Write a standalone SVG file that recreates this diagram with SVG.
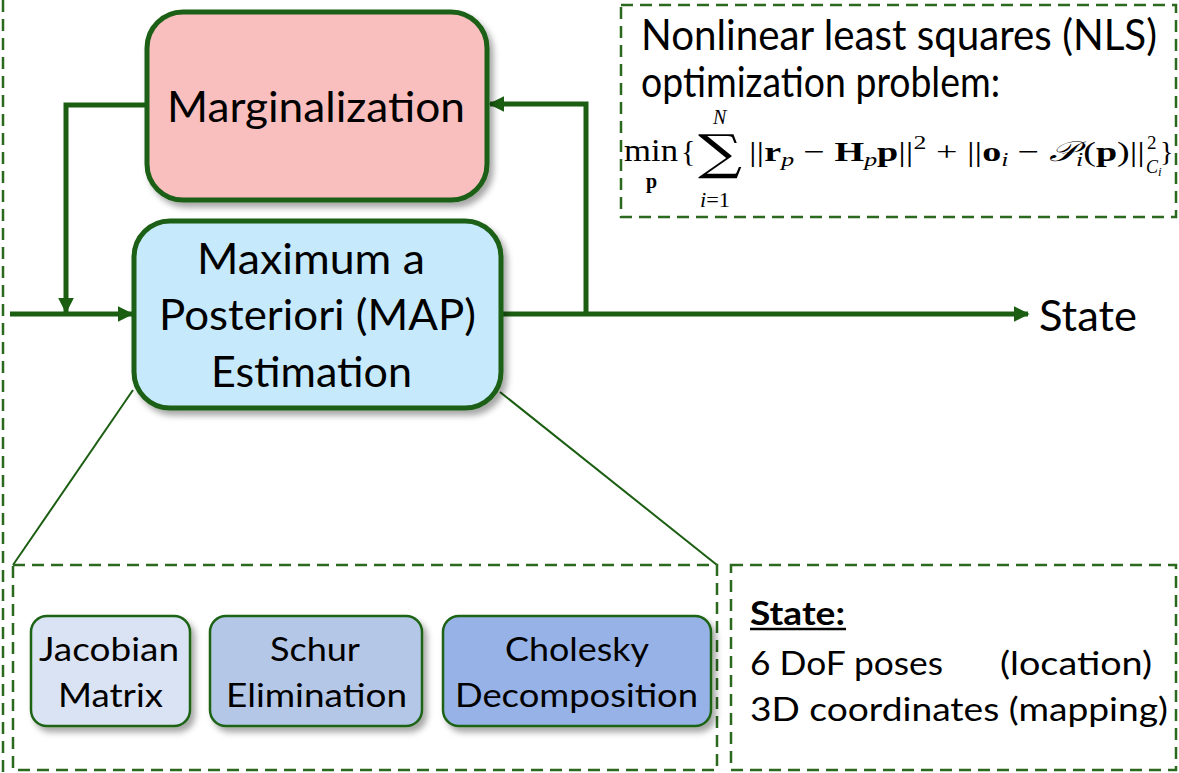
<svg xmlns="http://www.w3.org/2000/svg" width="1179" height="773" viewBox="0 0 1179 773">
  <defs>
    <filter id="shadow" x="-10%" y="-10%" width="125%" height="130%">
      <feDropShadow dx="4" dy="5" stdDeviation="3" flood-color="#000" flood-opacity="0.35"/>
    </filter>
    <marker id="arrow" viewBox="0 0 10 10" refX="9" refY="5" markerWidth="3.2" markerHeight="3.2" markerUnits="strokeWidth" orient="auto">
      <path d="M0,0 L10,5 L0,10 Z" fill="#1b5e12"/>
    </marker>
  </defs>
  <style>
    .frame { fill: none; stroke: #2b6a1e; stroke-width: 2.5; stroke-dasharray: 12 7; }
    .main { stroke: #1b5e12; stroke-width: 5; }
    .sub { stroke: #1f6316; stroke-width: 2.5; }
    .wire { fill: none; stroke: #1b5e12; stroke-width: 5; }
    .thin { fill: none; stroke: #1b5e12; stroke-width: 2; }
    .t { font-family: Lato, "Open Sans", sans-serif; fill: #000; }
    .big { font-size: 42px; }
    .small { font-size: 33px; }
    .math { font-family: "Liberation Serif", "DejaVu Serif", serif; fill: #000; }
    .b { font-weight: bold; }
    .i { font-style: italic; }
  </style>
  <rect width="1179" height="773" fill="#fff"/>

  <!-- outer frame edge -->
  <line x1="3" y1="0" x2="3" y2="773" class="frame"/>

  <!-- connectors -->
  <g id="connectors">
    <line x1="10" y1="314" x2="132" y2="314" class="wire" marker-end="url(#arrow)"/>
    <polyline points="147,105 66,105 66,312" class="wire" marker-end="url(#arrow)"/>
    <line x1="501" y1="314" x2="1028" y2="314" class="wire" marker-end="url(#arrow)"/>
    <polyline points="586,314 586,104 490,104" class="wire" marker-end="url(#arrow)"/>
    <line x1="133" y1="390" x2="13" y2="565" class="thin"/>
    <line x1="500" y1="392" x2="717" y2="565" class="thin"/>
  </g>

  <!-- NLS formulation box -->
  <g id="nls">
    <rect x="621" y="5" width="555" height="212" class="frame"/>
    <text x="641" y="50" class="t big" textLength="516" lengthAdjust="spacingAndGlyphs">Nonlinear least squares (NLS)</text>
    <text x="641" y="97" class="t big" textLength="359" lengthAdjust="spacingAndGlyphs">optimization problem:</text>
    <text x="624" y="161" class="math" font-size="31" textLength="54" lengthAdjust="spacingAndGlyphs">min</text>
    <text x="646" y="188" class="math b" font-size="20">p</text>
    <text x="681" y="161" class="math" font-size="30">{</text>
    <text x="698" y="169" font-family="DejaVu Serif, serif" font-size="48" textLength="44" lengthAdjust="spacingAndGlyphs">∑</text>
    <text x="713" y="124" class="math i" font-size="20">N</text>
    <text x="700" y="207" class="math" font-size="20" textLength="30" lengthAdjust="spacingAndGlyphs"><tspan class="i">i</tspan>=1</text>
    <text x="749" y="161" class="math" font-size="28" textLength="396" lengthAdjust="spacingAndGlyphs">||<tspan class="b">r</tspan><tspan class="i" font-size="19" dy="5">p</tspan><tspan dy="-5"> − </tspan><tspan class="b">H</tspan><tspan class="i" font-size="19" dy="5">p</tspan><tspan dy="-5" class="b">p</tspan>||<tspan font-size="19" dy="-12">2</tspan><tspan dy="12"> + ||</tspan><tspan class="b">o</tspan><tspan class="i" font-size="19" dy="5">i</tspan><tspan dy="-5"> − </tspan><tspan class="i">𝒫</tspan><tspan class="i" font-size="19" dy="5">i</tspan><tspan dy="-5">(</tspan><tspan class="b">p</tspan>)||</text>
    <text x="1147" y="149" class="math" font-size="19">2</text>
    <text x="1146" y="173" class="math i" font-size="18">C<tspan font-size="13" dy="3">i</tspan></text>
    <text x="1160" y="161" class="math" font-size="28">}</text>
  </g>

  <!-- Marginalization -->
  <g id="marginalization">
    <rect x="147" y="12" width="340" height="188" rx="36" fill="#f9bebe" class="main" filter="url(#shadow)"/>
    <text x="167" y="122" class="t big" textLength="298" lengthAdjust="spacingAndGlyphs">Marginalization</text>
  </g>

  <!-- MAP estimation -->
  <g id="map">
    <rect x="134" y="221" width="367" height="187" rx="36" fill="#c6e9fb" class="main" filter="url(#shadow)"/>
    <text x="197" y="274" class="t big" textLength="228" lengthAdjust="spacingAndGlyphs">Maximum a</text>
    <text x="159" y="330" class="t big" textLength="317" lengthAdjust="spacingAndGlyphs">Posteriori (MAP)</text>
    <text x="211" y="387" class="t big" textLength="201" lengthAdjust="spacingAndGlyphs">Estimation</text>
  </g>

  <!-- output label -->
  <g id="state-label">
    <text x="1039" y="331" class="t big" textLength="98" lengthAdjust="spacingAndGlyphs">State</text>
  </g>

  <!-- solver stages -->
  <g id="solver">
    <rect x="13" y="565" width="704" height="205" class="frame"/>
  </g>
  <g id="jacobian">
    <rect x="31" y="616" width="159" height="110" rx="16" fill="#dae3f3" class="sub" filter="url(#shadow)"/>
    <text x="39" y="661" class="t small" textLength="140" lengthAdjust="spacingAndGlyphs">Jacobian</text>
    <text x="58" y="707" class="t small" textLength="105" lengthAdjust="spacingAndGlyphs">Matrix</text>
  </g>
  <g id="schur">
    <rect x="210" y="616" width="212" height="110" rx="16" fill="#b4c7e7" class="sub" filter="url(#shadow)"/>
    <text x="270" y="661" class="t small" textLength="90" lengthAdjust="spacingAndGlyphs">Schur</text>
    <text x="226" y="707" class="t small" textLength="181" lengthAdjust="spacingAndGlyphs">Elimination</text>
  </g>
  <g id="cholesky">
    <rect x="443" y="616" width="268" height="110" rx="16" fill="#97b2e6" class="sub" filter="url(#shadow)"/>
    <text x="505" y="661" class="t small" textLength="144" lengthAdjust="spacingAndGlyphs">Cholesky</text>
    <text x="455" y="707" class="t small" textLength="243" lengthAdjust="spacingAndGlyphs">Decomposition</text>
  </g>

  <!-- state description -->
  <g id="state-box">
    <rect x="731" y="565" width="445" height="205" class="frame"/>
    <text x="750" y="625" class="t small b" textLength="95" lengthAdjust="spacingAndGlyphs">State:</text>
    <line x1="750" y1="629" x2="846" y2="629" stroke="#000" stroke-width="2.5"/>
    <text x="750" y="675" class="t small" textLength="193" lengthAdjust="spacingAndGlyphs">6 DoF poses</text>
    <text x="1000" y="675" class="t small" textLength="152" lengthAdjust="spacingAndGlyphs">(location)</text>
    <text x="750" y="721" class="t small" textLength="418" lengthAdjust="spacingAndGlyphs">3D coordinates (mapping)</text>
  </g>
</svg>
